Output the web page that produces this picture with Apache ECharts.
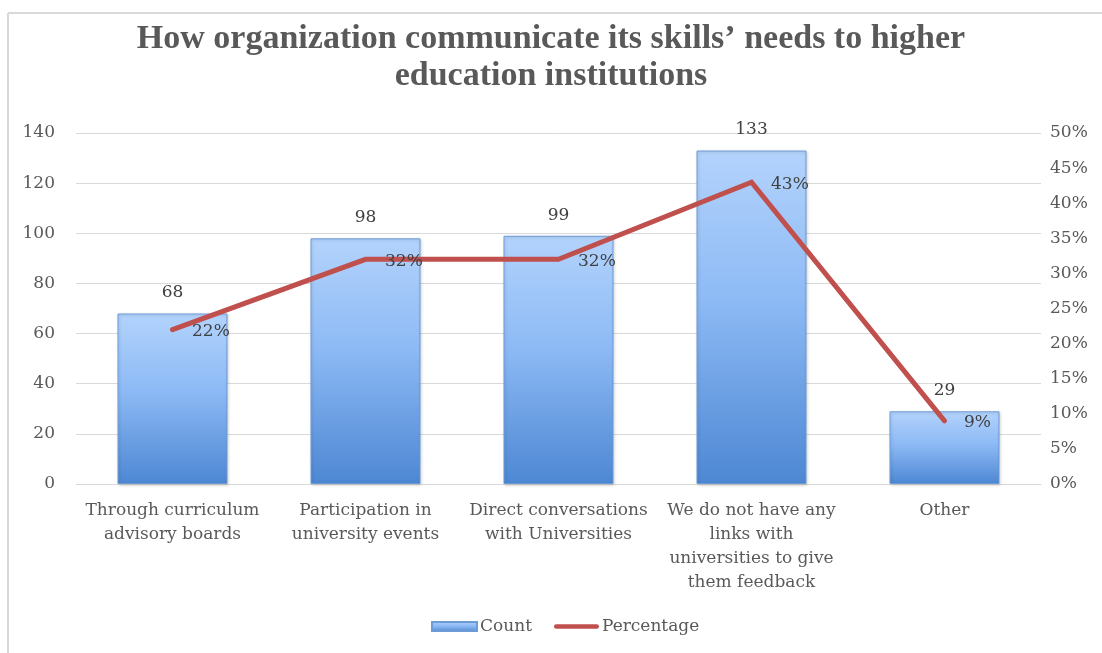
<!DOCTYPE html>
<html>
<head>
<meta charset="utf-8">
<script src="https://cdn.jsdelivr.net/npm/echarts@6/dist/echarts.min.js"></script>
<style>
  html, body { margin: 0; padding: 0; background: #ffffff; }
  #chart { width: 1102px; height: 653px; }
</style>
</head>
<body>
<div id="chart"></div>
<script>
// Survey categories (line breaks follow the wrapped axis labels)
const categories = [
  'Through curriculum\nadvisory boards',
  'Participation in\nuniversity events',
  'Direct conversations\nwith Universities',
  'We do not have any\nlinks with\nuniversities to give\nthem feedback',
  'Other'
];
const counts = [68, 98, 99, 133, 29];
const percentages = [0.22, 0.32, 0.32, 0.43, 0.09];

const titleText = 'How organization communicate its skills\u2019 needs to higher\neducation institutions';
const seriesNames = ['Count', 'Percentage'];

const textColor = '#595959';
const labelFont = 'DejaVu Serif';

const chart = echarts.init(document.getElementById('chart'), null, { renderer: 'canvas' });

const barGradient = new echarts.graphic.LinearGradient(0, 0, 0, 1, [
  { offset: 0, color: '#b3d3fc' },
  { offset: 0.45, color: '#8dbaf5' },
  { offset: 1, color: '#4d87d3' }
]);

chart.setOption({
  backgroundColor: '#ffffff',
  animation: false,
  title: {
    text: titleText,
    left: 'center',
    top: 16,
    textStyle: {
      fontFamily: 'Liberation Serif',
      fontWeight: 'bold',
      fontSize: 34,
      lineHeight: 37,
      color: textColor
    }
  },
  graphic: [
    { type: 'line', shape: { x1: 8, y1: 13, x2: 1102, y2: 13 }, style: { stroke: '#d9d9d9', lineWidth: 2 } },
    { type: 'line', shape: { x1: 8, y1: 13, x2: 8, y2: 653 }, style: { stroke: '#d9d9d9', lineWidth: 2 } }
  ],
  legend: {
    data: [
      { name: seriesNames[0], icon: 'rect' },
      { name: seriesNames[1], icon: 'path://M2.5,0 L46.5,0 A2.5,2.5 0 0 1 46.5,5 L2.5,5 A2.5,2.5 0 0 1 2.5,0 Z' }
    ],
    bottom: 18,
    left: 431,
    padding: 0,
    itemWidth: 45,
    itemHeight: 9,
    itemGap: 22,
    textStyle: { fontFamily: labelFont, fontSize: 17, color: textColor, padding: [0, 0, 0, -2] }
  },
  grid: { left: 76, right: 61, top: 133, bottom: 169 },
  xAxis: {
    type: 'category',
    data: categories,
    axisLine: { show: true, lineStyle: { color: '#d9d9d9', width: 1 } },
    axisTick: { show: false },
    axisLabel: {
      interval: 0,
      margin: 15,
      fontFamily: labelFont,
      fontSize: 17,
      lineHeight: 24,
      color: textColor
    }
  },
  yAxis: [
    {
      type: 'value',
      min: 0,
      max: 140,
      interval: 20,
      axisLine: { show: false },
      axisTick: { show: false },
      splitLine: { lineStyle: { color: '#d9d9d9', width: 1 } },
      axisLabel: { margin: 21, fontFamily: labelFont, fontSize: 17, color: textColor }
    },
    {
      type: 'value',
      min: 0,
      max: 0.5,
      interval: 0.05,
      axisLine: { show: false },
      axisTick: { show: false },
      splitLine: { show: false },
      axisLabel: {
        margin: 9,
        fontFamily: labelFont,
        fontSize: 17,
        color: textColor,
        formatter: v => Math.round(v * 100) + '%'
      }
    }
  ],
  series: [
    {
      name: seriesNames[0],
      type: 'bar',
      yAxisIndex: 0,
      data: counts,
      barWidth: '57%',
      itemStyle: {
        color: barGradient,
        borderColor: '#6d9bd6',
        borderWidth: 1,
        shadowColor: 'rgba(0,0,0,0.18)',
        shadowBlur: 3,
        shadowOffsetX: 1,
        shadowOffsetY: 1
      },
      label: {
        show: true,
        position: 'top',
        distance: 12,
        fontFamily: labelFont,
        fontSize: 17,
        color: '#404040'
      }
    },
    {
      name: seriesNames[1],
      type: 'line',
      yAxisIndex: 1,
      data: percentages,
      symbol: 'circle',
      symbolSize: 1,
      itemStyle: { color: '#c0504d' },
      lineStyle: { color: '#c0504d', width: 5, cap: 'round', join: 'miter' },
      label: {
        show: true,
        position: 'right',
        distance: 19,
        offset: [0, 2],
        fontFamily: labelFont,
        fontSize: 17,
        color: '#404040',
        formatter: p => Math.round(p.value * 100) + '%'
      },
      z: 3
    }
  ]
});
</script>
</body>
</html>
